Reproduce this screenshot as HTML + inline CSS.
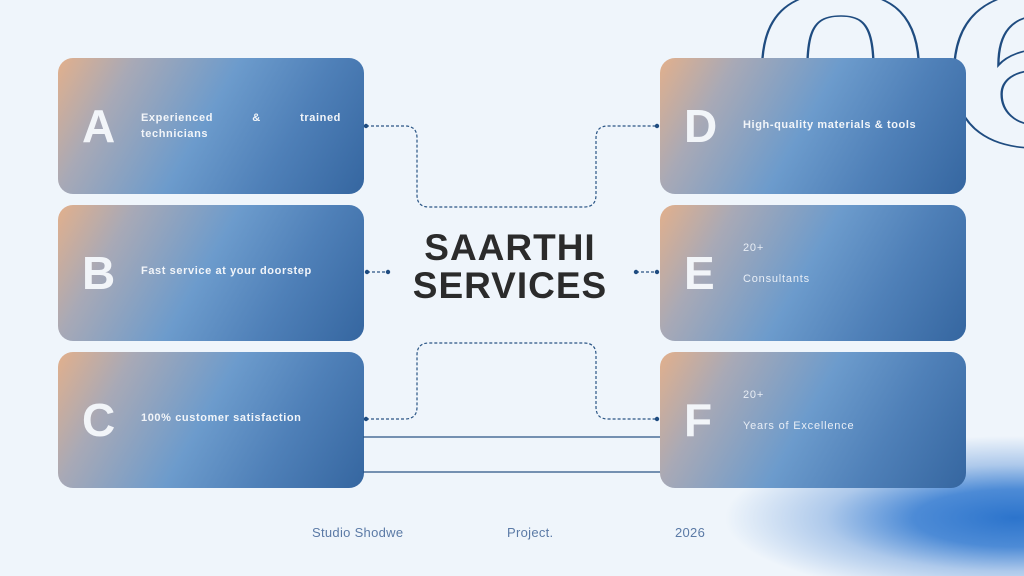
<!DOCTYPE html>
<html style="width:1024px;height:576px;overflow:hidden"><head><meta charset="utf-8"><style>
*{margin:0;padding:0;box-sizing:border-box}
body{width:1024px;height:576px;overflow:hidden;background:#eff5fb;position:relative;font-family:"Liberation Sans",sans-serif}
.blob{position:absolute;left:640px;top:400px;width:384px;height:176px;background:radial-gradient(ellipse 290px 82px at 375px 118px,#2c74cc 0%,#4d8bd6 35%,rgba(120,165,222,.55) 65%,rgba(239,245,251,0) 100%)}
.card{position:absolute;width:306px;height:136px;border-radius:15px;background:linear-gradient(120deg,#e2b08c 0%,#a8a9b6 20%,#6c9bcc 48%,#4f80b8 72%,#3566a0 100%);color:#f2f5f9}
.L{position:absolute;left:24px;top:0;height:136px;line-height:136px;font-size:46px;font-weight:bold}
.t{position:absolute;left:83px;font-size:11px;font-weight:bold;letter-spacing:.6px}
.n{position:absolute;left:83px;font-size:11px;letter-spacing:.8px;color:#e8eef6}
.title{position:absolute;left:380px;width:260px;top:229px;text-align:center;font-size:37px;font-weight:bold;line-height:38px;color:#2b2b2b;letter-spacing:1px}
.foot{position:absolute;top:525px;font-size:13px;color:#5b7aa6;letter-spacing:.3px}
</style></head><body>
<div class="blob"></div>
<svg width="1024" height="576" style="position:absolute;left:0;top:0">
<g transform="translate(749,146) scale(1.5,1)"><text x="0" y="0" font-family="Liberation Sans" font-weight="bold" font-size="220" fill="none" stroke="#1f4c80" stroke-width="2" vector-effect="non-scaling-stroke">0</text></g>
<g transform="translate(942,146) scale(1.5,1)"><text x="0" y="0" font-family="Liberation Sans" font-weight="bold" font-size="220" fill="none" stroke="#1f4c80" stroke-width="2" vector-effect="non-scaling-stroke">6</text></g>
</svg>
<div class="card" style="left:58px;top:58px"><div class="L">A</div><div class="t" style="top:52px;width:200px;text-align:justify;text-align-last:justify;line-height:16px">Experienced &amp; trained</div><div class="t" style="top:68px;line-height:16px">technicians</div></div>
<div class="card" style="left:58px;top:205px"><div class="L">B</div><div class="t" style="top:60px">Fast service at your doorstep</div></div>
<div class="card" style="left:58px;top:352px"><div class="L">C</div><div class="t" style="top:60px">100% customer satisfaction</div></div>
<div class="card" style="left:660px;top:58px"><div class="L">D</div><div class="t" style="top:61px">High-quality materials &amp; tools</div></div>
<div class="card" style="left:660px;top:205px"><div class="L">E</div><div class="n" style="top:37px">20+</div><div class="n" style="top:68px">Consultants</div></div>
<div class="card" style="left:660px;top:352px"><div class="L">F</div><div class="n" style="top:37px">20+</div><div class="n" style="top:68px">Years of Excellence</div></div>
<svg width="1024" height="576" style="position:absolute;left:0;top:0">
<g fill="none" stroke="#2a5585" stroke-width="1.2" stroke-dasharray="3,2">
<path d="M366 126 H405 Q417 126 417 138 V195 Q417 207 429 207 H584 Q596 207 596 195 V138 Q596 126 608 126 H657"/>
<path d="M366 419 H405 Q417 419 417 407 V355 Q417 343 429 343 H584 Q596 343 596 355 V407 Q596 419 608 419 H657"/>
<path d="M367 272 H388"/><path d="M636 272 H657"/>
</g>
<g stroke="#2a5585" stroke-width="1.3"><line x1="363" y1="437" x2="660" y2="437"/><line x1="363" y1="472" x2="660" y2="472"/></g>
<g fill="#1f4c80"><circle cx="366" cy="126" r="2.2"/><circle cx="657" cy="126" r="2.2"/><circle cx="366" cy="419" r="2.2"/><circle cx="657" cy="419" r="2.2"/><circle cx="367" cy="272" r="2.2"/><circle cx="388" cy="272" r="2.2"/><circle cx="636" cy="272" r="2.2"/><circle cx="657" cy="272" r="2.2"/></g>
</svg>
<div class="title">SAARTHI<br>SERVICES</div>
<div class="foot" style="left:312px">Studio Shodwe</div>
<div class="foot" style="left:507px">Project.</div>
<div class="foot" style="left:675px">2026</div>
</body></html>
